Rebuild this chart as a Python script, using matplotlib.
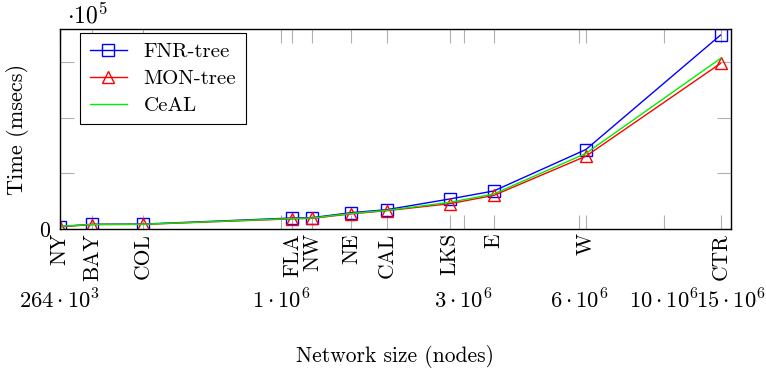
import matplotlib
matplotlib.use("Agg")
import matplotlib.pyplot as plt
import matplotlib.ticker as mticker

plt.rcParams["font.family"] = "cmr10"
plt.rcParams["mathtext.fontset"] = "cm"
plt.rcParams["axes.unicode_minus"] = False
plt.rcParams["axes.formatter.use_mathtext"] = True

# ── Data ──────────────────────────────────────────────────────────────────────
networks = ["NY", "BAY", "COL", "FLA", "NW", "NE", "CAL", "LKS", "E", "W", "CTR"]
nodes = [264346, 321270, 435666, 1070376, 1207945, 1524453, 1890815,
         2758119, 3598623, 6262104, 14081816]
fnr_tree = [4500, 8500, 8800, 19800, 20500, 29400, 34800, 54000, 68500, 143000, 349000]
mon_tree = [4000, 8000, 8300, 18300, 19200, 27300, 33000, 45500, 60500, 131000, 298000]
ceal = [4800, 8200, 8500, 18800, 19800, 28000, 33500, 48000, 63000, 136000, 307000]

size_ticks = [264346, 1e6, 3e6, 6e6, 10e6, 15e6]
size_labels = [r"$264\cdot10^{3}$", r"$1\cdot10^{6}$", r"$3\cdot10^{6}$",
               r"$6\cdot10^{6}$", r"$10\cdot10^{6}$", r"$15\cdot10^{6}$"]

FS = 15.5

# ── Plot ──────────────────────────────────────────────────────────────────────
fig = plt.figure(figsize=(7.66, 3.71), dpi=100)
ax = fig.add_axes([60 / 766, 1 - 229 / 371, 671 / 766, 200 / 371])

ax.plot(nodes, fnr_tree, color="blue", linewidth=1.0, marker="s", markersize=8,
        markerfacecolor="none", markeredgewidth=1.0, label="FNR-tree")
ax.plot(nodes, mon_tree, color="red", linewidth=1.0, marker="^", markersize=8,
        markerfacecolor="none", markeredgewidth=1.0, label="MON-tree")
ax.plot(nodes, ceal, color="#00ee00", linewidth=1.0, label="CeAL")

ax.set_xscale("log")
ax.set_xlim(264346, 15e6)
ax.set_ylim(0, 3.6e5)

# dataset names as major ticks, node counts as a second row (minor ticks)
ax.xaxis.remove_overlapping_locs = False
ax.xaxis.set_major_locator(mticker.FixedLocator(nodes))
ax.xaxis.set_major_formatter(mticker.FixedFormatter(networks))
ax.xaxis.set_minor_locator(mticker.FixedLocator(size_ticks))
ax.xaxis.set_minor_formatter(mticker.FixedFormatter(size_labels))
ax.tick_params(axis="x", which="major", labelrotation=90, labelsize=FS, pad=3)
ax.tick_params(axis="x", which="minor", labelsize=16.3, pad=43)

ax.set_yticks([0, 1e5, 2e5, 3e5])
ax.set_yticklabels(["0", "", "", ""])
ax.tick_params(axis="y", labelsize=FS, pad=7)

ax.tick_params(which="both", direction="in", top=True, right=True,
               length=10, width=0.8, color="#b0b0b0")
for s in ax.spines.values():
    s.set_linewidth(1.0)

ax.text(0.01, 1.03, r"$\cdot10^{5}$", transform=ax.transAxes, fontsize=17,
        va="baseline", ha="left")

ax.set_xlabel("Network size (nodes)", fontsize=FS)
ax.xaxis.set_label_coords(0.5, -0.58)
ax.set_ylabel("Time (msecs)", fontsize=16, va="center")
ax.yaxis.set_label_coords(-0.064, 0.5)

leg = ax.legend(loc="upper left", bbox_to_anchor=(0.03, 0.98), borderaxespad=0,
                fontsize=15, fancybox=False, framealpha=1, edgecolor="black",
                handlelength=1.8, labelspacing=0.4, borderpad=0.45)
leg.get_frame().set_linewidth(0.8)

fig.savefig("out.png", dpi=100)
